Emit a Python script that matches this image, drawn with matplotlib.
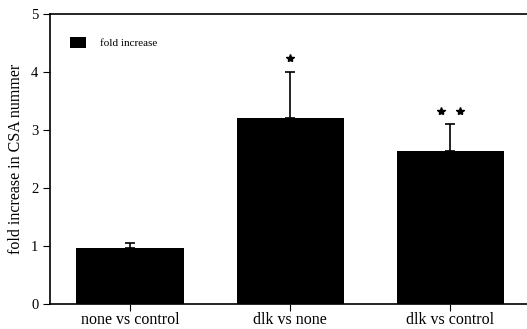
import numpy as np
import matplotlib.pyplot as plt

# values
categories = ["none vs control", "dlk vs none", "dlk vs control"]
fold = [0.97, 3.21, 2.64]
err_up = [0.08, 0.80, 0.46]
star_count = [0, 1, 2]

plt.rcParams['font.family'] = ['Liberation Serif', 'DejaVu Serif']

fig = plt.figure(figsize=(5.27, 3.29), dpi=100)
ax = fig.add_axes([0.095, 0.076, 0.905, 0.881])

x = np.arange(len(categories))
ax.bar(x, fold, width=0.67, color='black', label='fold increase',
       yerr=[np.zeros(len(fold)), err_up], capsize=3.5,
       error_kw=dict(ecolor='black', elinewidth=1.2, capthick=1.2))

# significance stars above the error bars
for xi, f, e, n in zip(x, fold, err_up, star_count):
    if n == 1:
        ax.plot([xi], [f + e + 0.23], marker='*', color='black', ms=6, ls='none')
    elif n == 2:
        ax.plot([xi - 0.06, xi + 0.06], [f + e + 0.23] * 2, marker='*',
                color='black', ms=6, ls='none')

ax.set_xlim(-0.5, 2.48)
ax.set_ylim(0, 5)
ax.set_yticks([0, 1, 2, 3, 4, 5])
ax.set_xticks(x)
ax.set_xticklabels(categories, fontsize=11.5)
ax.tick_params(axis='y', labelsize=10.5, length=5, direction='out')
ax.tick_params(axis='x', length=5, direction='out', pad=1)
ax.set_ylabel("fold increase in CSA nummer", fontsize=11.5, labelpad=5)

ax.spines['right'].set_visible(False)
for s in ['left', 'bottom', 'top']:
    ax.spines[s].set_linewidth(1.2)

ax.legend(loc='upper left', frameon=False, fontsize=8, handlelength=1.5,
          handleheight=1.1, handletextpad=1.2, bbox_to_anchor=(0.02, 0.955))

fig.savefig("out.png", dpi=100)
